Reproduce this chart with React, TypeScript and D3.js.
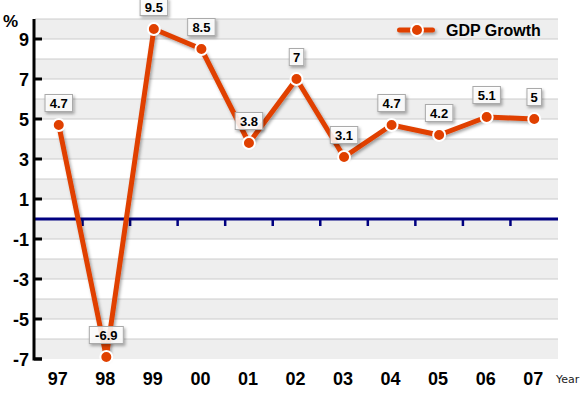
import React, { useEffect, useRef } from "react";
import * as d3 from "d3";

const years = ["97", "98", "99", "00", "01", "02", "03", "04", "05", "06", "07"];
const growth = [4.7, -6.9, 9.5, 8.5, 3.8, 7, 3.1, 4.7, 4.2, 5.1, 5];
const yTicks = [9, 7, 5, 3, 1, -1, -3, -5, -7];

const W = 588;
const H = 396;
const left = 35;
const right = 558;
const top = 19;
const bottom = 359;
const lineColor = "#e04000";
const boldFont = "'Liberation Sans', Arial, sans-serif";

const App = () => {
  const svgRef = useRef<SVGSVGElement>(null);

  useEffect(() => {
    const svg = d3.select(svgRef.current);
    svg.selectAll("*").remove();

    const x = d3.scaleBand().domain(years).range([left, right]);
    const y = d3.scaleLinear().domain([-7, 10]).range([bottom, top]);
    const cx = (d: string) => (x(d) as number) + x.bandwidth() / 2;

    // drop shadow (user space region so thin/flat shapes still get it)
    const defs = svg.append("defs");
    const f = defs.append("filter").attr("id", "shadow")
      .attr("filterUnits", "userSpaceOnUse")
      .attr("x", -W).attr("y", -H).attr("width", W * 3).attr("height", H * 3);
    f.append("feDropShadow").attr("dx", 1.5).attr("dy", 2).attr("stdDeviation", 1.5)
      .attr("flood-color", "#000").attr("flood-opacity", 0.35);

    // bands
    const bands = d3.range(-7, 10);
    svg.append("g").selectAll("rect").data(bands).join("rect")
      .attr("x", left).attr("width", right - left)
      .attr("y", (v) => y(v + 1)).attr("height", (v) => y(v) - y(v + 1))
      .attr("fill", (v) => (Math.abs(v) % 2 === 1 ? "#eeeeee" : "#ffffff"));
    svg.append("g").selectAll("line").data(d3.range(-6, 11)).join("line")
      .attr("x1", left).attr("x2", right)
      .attr("y1", (v) => y(v)).attr("y2", (v) => y(v))
      .attr("stroke", "#cccccc").attr("stroke-width", 1);

    // zero line with ticks
    svg.append("line").attr("x1", left).attr("x2", right)
      .attr("y1", y(0)).attr("y2", y(0))
      .attr("stroke", "#000080").attr("stroke-width", 3);
    svg.append("g").selectAll("line").data(years.slice(1)).join("line")
      .attr("x1", (d) => x(d) as number).attr("x2", (d) => x(d) as number)
      .attr("y1", y(0)).attr("y2", y(0) + 7)
      .attr("stroke", "#000080").attr("stroke-width", 2.5);

    // y axis
    svg.append("path")
      .attr("d", `M${left - 1},${top} V${bottom} H${left + 7}`)
      .attr("fill", "none").attr("stroke", "#000").attr("stroke-width", 3);
    const yg = svg.append("g");
    yg.selectAll("line").data(yTicks).join("line")
      .attr("x1", left - 1).attr("x2", left + 7)
      .attr("y1", (v) => y(v)).attr("y2", (v) => y(v))
      .attr("stroke", "#000").attr("stroke-width", 3);
    yg.selectAll("text").data(yTicks).join("text")
      .attr("x", left - 6).attr("y", (v) => y(v) + 6.5)
      .attr("text-anchor", "end")
      .attr("font-family", boldFont).attr("font-weight", "bold").attr("font-size", 18)
      .text((v) => v);
    svg.append("text").attr("x", 3).attr("y", 27)
      .attr("font-family", boldFont).attr("font-weight", "bold").attr("font-size", 17)
      .text("%");

    // x labels
    svg.append("g").selectAll("text").data(years).join("text")
      .attr("x", (d) => cx(d) - 1).attr("y", 385)
      .attr("text-anchor", "middle")
      .attr("font-family", boldFont).attr("font-weight", "bold").attr("font-size", 18)
      .text((d) => d);
    svg.append("text").attr("x", 556).attr("y", 383)
      .attr("font-family", "'DejaVu Sans', Verdana, sans-serif").attr("font-size", 11)
      .attr("fill", "#222").text("Year");

    // line
    const line = d3.line<number>().x((_, i) => cx(years[i])).y((v) => y(v));
    svg.append("path").datum(growth)
      .attr("d", line)
      .attr("fill", "none").attr("stroke", lineColor).attr("stroke-width", 5)
      .attr("stroke-linejoin", "round")
      .attr("filter", "url(#shadow)");
    svg.append("g").selectAll("circle").data(growth).join("circle")
      .attr("cx", (_, i) => cx(years[i])).attr("cy", (v) => y(v))
      .attr("r", 6).attr("fill", lineColor)
      .attr("stroke", "#fff").attr("stroke-width", 2);

    // value labels
    const boxW = (v: number) => String(v).length * 6.5 + 8;
    const lg = svg.append("g").selectAll("g").data(growth).join("g")
      .attr("transform", (v, i) => `translate(${cx(years[i])},${y(v) - 22})`);
    lg.append("rect")
      .attr("x", (v) => -boxW(v) / 2)
      .attr("width", boxW)
      .attr("y", -8.5).attr("height", 17)
      .attr("fill", "#fff").attr("fill-opacity", 0.85)
      .attr("stroke", "#aaa").attr("stroke-width", 1)
      .attr("filter", "url(#shadow)");
    lg.append("text")
      .attr("text-anchor", "middle").attr("y", 4.5)
      .attr("font-family", boldFont).attr("font-weight", "bold").attr("font-size", 13)
      .text((v) => v);

    // legend
    const leg = svg.append("g").attr("transform", "translate(397,30)");
    leg.append("rect").attr("x", 0).attr("y", -2.5).attr("width", 38).attr("height", 5)
      .attr("rx", 2.5).attr("fill", lineColor)
      .attr("filter", "url(#shadow)");
    leg.append("circle").attr("cx", 20).attr("cy", 0).attr("r", 6)
      .attr("fill", lineColor).attr("stroke", "#fff").attr("stroke-width", 2);
    leg.append("text").attr("x", 49).attr("y", 6)
      .attr("font-family", boldFont).attr("font-weight", "bold").attr("font-size", 16)
      .text("GDP Growth");
  }, []);

  return (
    <svg
      ref={svgRef}
      width={W}
      height={H}
      style={{ position: "absolute", left: 0, top: 0, background: "#fff" }}
    ></svg>
  );
};

export default App;
